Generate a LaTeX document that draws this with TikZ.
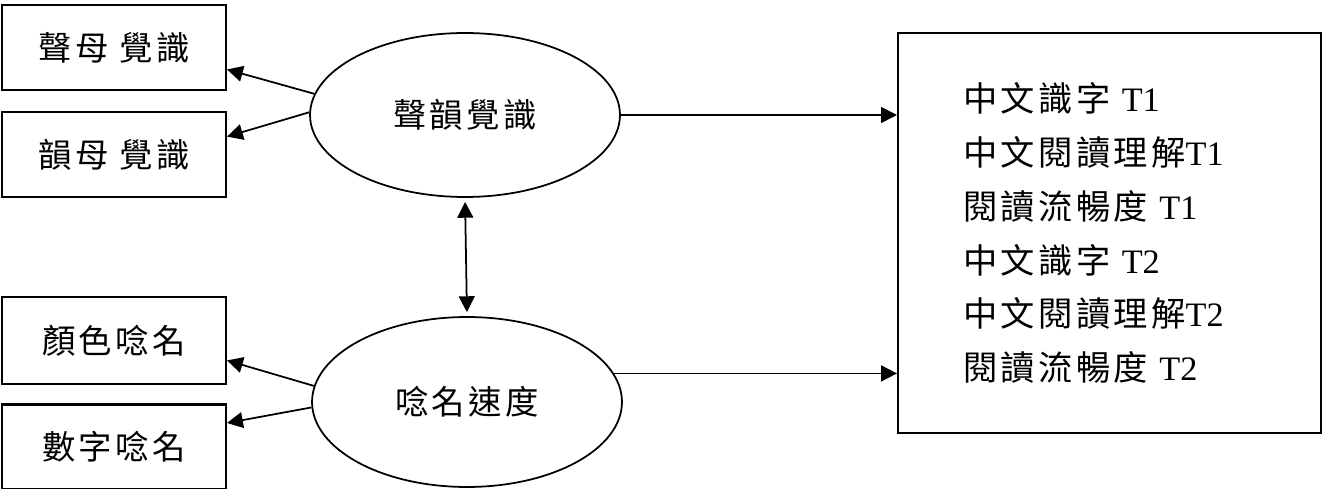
\documentclass[tikz,border=0pt]{standalone}
\usepackage{fontspec}
\setmainfont{Liberation Serif}
\newfontfamily\cjk[LetterSpace=10]{Noto Sans CJK TC}
\usetikzlibrary{shapes.geometric,arrows.meta}

\begin{document}
\begin{tikzpicture}[x=0.02cm, y=-0.02cm,
    box/.style = {draw, line width=1.2pt, minimum width=4.48cm, minimum height=1.7cm,
                  font=\fontsize{19}{21}\selectfont\cjk},
    latent/.style = {draw, ellipse, line width=1pt, minimum width=6.2cm, minimum height=3.28cm,
                     inner sep=0pt, font=\fontsize{19}{21}\selectfont\cjk},
    arr/.style = {-{Triangle[length=9pt,width=9pt]}, line width=1pt}]
    \useasboundingbox (0,0) rectangle (1324,489);

    \node (sm) [box] at (114,47.5) {聲母 覺識};
    \node (ym) [box] at (114,154.5) {韻母 覺識};
    \node (ys) [box, minimum height=1.74cm] at (114,340.5) {顏色唸名};
    \node (sz) [box] at (114,447) {數字唸名};

    \node (e1) [latent] at (465,115) {聲韻覺識};
    \node (e2) [latent, minimum height=3.4cm] at (467,402) {唸名速度};

    \node (res) [draw, line width=1.2pt, minimum width=8.46cm, minimum height=8cm,
                 inner xsep=1.3cm, text width=5.86cm, align=left,
                 font=\fontsize{19.5}{30.7}\selectfont] at (1109.5,233)
        {{\cjk 中文識字} T1\\
         {\cjk 中文閱讀理解}T1\\
         {\cjk 閱讀流暢度} T1\\
         {\cjk 中文識字} T2\\
         {\cjk 中文閱讀理解}T2\\
         {\cjk 閱讀流暢度} T2};

    \draw [arr] (e1.172) -- (sm.-11);
    \draw [arr] (e1.179) -- (ym.9);
    \draw [arr] (e2.174) -- (ys.-10);
    \draw [arr] (e2.182) -- (sz.12);
    \draw [arr] (e1.east) -- (e1.east -| res.west);
    \draw [arr] (e2.11) -- (e2.11 -| res.west);
    \draw [arr, {Triangle[length=9pt,width=9pt]}-{Triangle[length=9pt,width=9pt]},
           shorten <=2.3pt, shorten >=2.3pt] (e1.south) -- (e2.north);

\end{tikzpicture}
\end{document}
